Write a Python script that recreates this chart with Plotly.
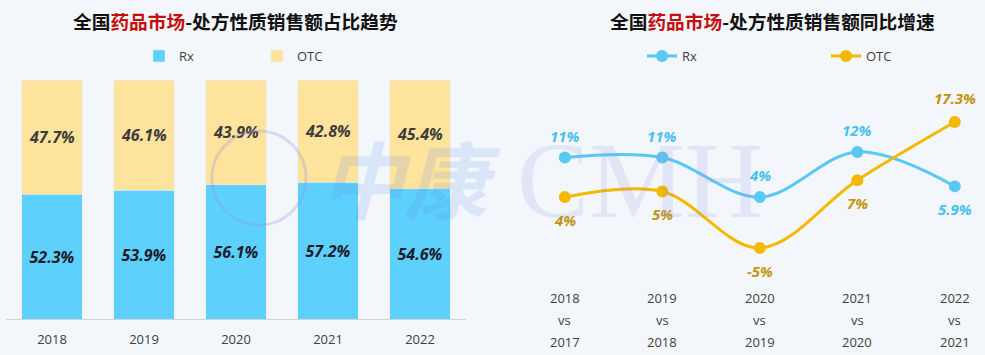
import plotly.graph_objects as go

# ---------------- data ----------------
years = ["2018", "2019", "2020", "2021", "2022"]
rx_share = [52.3, 53.9, 56.1, 57.2, 54.6]
otc_share = [47.7, 46.1, 43.9, 42.8, 45.4]

period_end = ["2018", "2019", "2020", "2021", "2022"]
period_base = ["2017", "2018", "2019", "2020", "2021"]
rx_growth = [11, 11, 4, 12, 5.9]
otc_growth = [4, 5, -5, 7, 17.3]
rx_growth_labels = ["11%", "11%", "4%", "12%", "5.9%"]
otc_growth_labels = ["4%", "5%", "-5%", "7%", "17.3%"]

title_left = ("全国", "药品市场", "-处方性质销售额占比趋势")
title_right = ("全国", "药品市场", "-处方性质销售额同比增速")

# ---------------- style ----------------
W, H = 985, 355
BG = "#f3f7fc"
RX_BAR = "#5dd0fc"
OTC_BAR = "#fde39b"
RX_LINE = "#58c9f5"
OTC_LINE = "#f5b800"
RX_TXT = "#45c0f0"
OTC_TXT = "#c0950c"
FONT = "Open Sans"
CJK = "Noto Sans CJK SC"


def px(x):
    return x / W


def py(y):
    return 1 - y / H


periods = [f"{a} vs {b}" for a, b in zip(period_end, period_base)]

fig = go.Figure()

# left: stacked share bars
fig.add_trace(go.Bar(
    x=years, y=rx_share, name="Rx", marker_color=RX_BAR,
    text=[f"{v:.1f}%" for v in rx_share], textposition="inside",
    insidetextanchor="middle",
    textfont=dict(family=FONT, size=16, color="#1b1b2b", weight="bold", style="italic"),
    xaxis="x", yaxis="y", legend="legend", hoverinfo="skip",
))
fig.add_trace(go.Bar(
    x=years, y=otc_share, name="OTC", marker_color=OTC_BAR,
    text=[f"{v:.1f}%" for v in otc_share], textposition="inside",
    insidetextanchor="middle",
    textfont=dict(family=FONT, size=16, color="#3c3c3c", weight="bold", style="italic"),
    xaxis="x", yaxis="y", legend="legend", hoverinfo="skip",
))

# right: growth lines
fig.add_trace(go.Scatter(
    x=periods, y=rx_growth, name="Rx", mode="lines+markers",
    line=dict(color=RX_LINE, width=3, shape="spline"),
    marker=dict(color=RX_LINE, size=12),
    xaxis="x2", yaxis="y2", legend="legend2", hoverinfo="skip",
))
fig.add_trace(go.Scatter(
    x=periods, y=otc_growth, name="OTC", mode="lines+markers",
    line=dict(color=OTC_LINE, width=3, shape="spline"),
    marker=dict(color=OTC_LINE, size=12),
    xaxis="x2", yaxis="y2", legend="legend2", hoverinfo="skip",
))

annotations = []
# point labels
for i, p in enumerate(periods):
    rx_above = rx_growth[i] >= otc_growth[i]
    annotations.append(dict(
        x=p, y=rx_growth[i], xref="x2", yref="y2", text=rx_growth_labels[i],
        showarrow=False, yshift=22 if rx_above else -23,
        xanchor="center", yanchor="middle",
        font=dict(family=FONT, size=15, color=RX_TXT, weight="bold", style="italic"),
    ))
    annotations.append(dict(
        x=p, y=otc_growth[i], xref="x2", yref="y2", text=otc_growth_labels[i],
        showarrow=False, yshift=-23 if rx_above else 24,
        xanchor="center", yanchor="middle",
        font=dict(family=FONT, size=15, color=OTC_TXT, weight="bold", style="italic"),
    ))
# right x tick labels (3 lines)
for i, p in enumerate(periods):
    for row_y, t in zip((298, 320, 342), (period_end[i], "vs", period_base[i])):
        annotations.append(dict(
            x=p, y=py(row_y), xref="x2", yref="paper", text=t, showarrow=False,
            xanchor="center", yanchor="middle",
            font=dict(family=FONT, size=13, color="#404040"),
        ))


def title_text(parts):
    return (f"<b>{parts[0]}<span style='color:#c40f0f'>{parts[1]}</span>{parts[2]}</b>")


for cx, parts in ((235, title_left), (772, title_right)):
    annotations.append(dict(x=px(cx), y=py(20), xref="paper", yref="paper",
                            text=title_text(parts), showarrow=False,
                            xanchor="center", yanchor="middle",
                            font=dict(family=CJK, size=18.7, color="#111111")))

# watermark
annotations.append(dict(x=px(410), y=py(176), xref="paper", yref="paper",
                        text="<b><i>中康</i></b>", showarrow=False,
                        xanchor="center", yanchor="middle",
                        font=dict(family=CJK, size=84, color="rgba(95,135,240,0.16)")))
annotations.append(dict(x=px(640), y=py(180), xref="paper", yref="paper",
                        text="CMH", showarrow=False,
                        xanchor="center", yanchor="middle",
                        font=dict(family="Liberation Serif", size=108,
                                  color="rgba(140,140,215,0.17)")))

shapes = [dict(type="circle", xref="paper", yref="paper",
               x0=px(212), x1=px(306), y0=py(225), y1=py(131),
               line=dict(color="rgba(150,150,225,0.30)", width=3),
               fillcolor="rgba(0,0,0,0)")]

fig.update_layout(
    width=W, height=H,
    margin=dict(l=0, r=0, t=0, b=0, autoexpand=False),
    paper_bgcolor=BG, plot_bgcolor="rgba(0,0,0,0)",
    barmode="stack", bargap=0.34,
    font=dict(family=FONT, size=13, color="#404040"),
    showlegend=True,
    xaxis=dict(domain=[px(6), px(466)], showgrid=False, showline=True,
               linecolor="#d4d4d4", linewidth=1, ticks="", fixedrange=True,
               tickfont=dict(size=13, color="#404040"), ticklabelstandoff=8),
    yaxis=dict(domain=[py(319), py(80)], range=[0, 100], visible=False),
    xaxis2=dict(domain=[px(520), 1.0], range=[-0.46, 4.31], showgrid=False,
                showline=False, showticklabels=False, ticks="", anchor="y2"),
    yaxis2=dict(domain=[py(280), py(80)], range=[-10.67, 24.73], visible=False,
                anchor="x2"),
    legend=dict(orientation="h", x=px(139), y=py(56), xanchor="left", yanchor="middle",
                entrywidth=73, bgcolor="rgba(0,0,0,0)", font=dict(size=13, color="#404040"),
                traceorder="normal"),
    legend2=dict(orientation="h", x=px(642), y=py(56), xanchor="left", yanchor="middle",
                 entrywidth=139, bgcolor="rgba(0,0,0,0)", font=dict(size=13, color="#404040"),
                 traceorder="normal"),
    annotations=annotations,
    shapes=shapes,
)

fig.write_html("out.html", config={"displayModeBar": False},
               post_script="document.body.style.margin='0';document.body.style.overflow='hidden';")
